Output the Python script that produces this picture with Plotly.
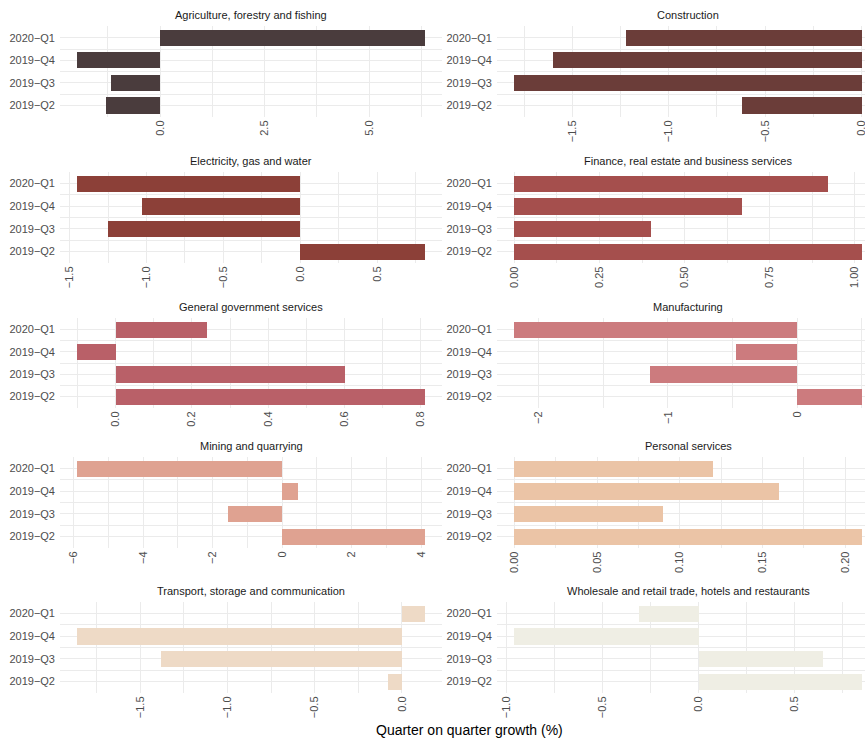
import plotly.graph_objects as go

# Quarters (bottom to top on each panel)
quarters = ["2019\u2212Q2", "2019\u2212Q3", "2019\u2212Q4", "2020\u2212Q1"]

sectors = [
    "Agriculture, forestry and fishing",
    "Construction",
    "Electricity, gas and water",
    "Finance, real estate and business services",
    "General government services",
    "Manufacturing",
    "Mining and quarrying",
    "Personal services",
    "Transport, storage and communication",
    "Wholesale and retail trade, hotels and restaurants",
]

# Quarter-on-quarter growth (%), ordered as in `quarters`
agriculture = [-1.29, -1.17, -1.98, 6.33]
construction = [-0.62, -1.80, -1.60, -1.22]
electricity = [0.81, -1.25, -1.03, -1.45]
finance = [1.02, 0.40, 0.67, 0.92]
government = [0.81, 0.60, -0.10, 0.24]
manufacturing = [0.50, -1.14, -0.47, -2.19]
mining = [4.10, -1.57, 0.46, -5.89]
personal = [0.21, 0.09, 0.16, 0.12]
transport = [-0.08, -1.38, -1.86, 0.13]
wholesale = [0.85, 0.65, -0.96, -0.31]

series = [agriculture, construction, electricity, finance, government,
          manufacturing, mining, personal, transport, wholesale]

colors = ["#4A3C3D", "#6B3D39", "#8C4038", "#A54F4D", "#B96068",
          "#CC7B7E", "#DFA291", "#EBC4A6", "#EEDAC6", "#EFEEE4"]

# Tick spacing and label format per panel
dticks = [2.5, 0.5, 0.5, 0.25, 0.2, 1, 2, 0.05, 0.5, 0.5]
formats = [".1f", ".1f", ".1f", ".2f", ".1f", "d", "d", ".2f", ".1f", ".1f"]

W, H = 865, 740
col_x = [(60, 442), (497, 879)]          # panel pixel spans (right column runs past the page)
row_y = [(26, 117.3), (171.7, 263.3), (317.7, 408.3), (456.7, 548.3), (601.7, 693.3)]

FONT = "Liberation Sans, Arial, sans-serif"
GRID = "#EBEBEB"

fig = go.Figure()
annotations = []
layout_axes = {}

for i, (name, vals, color) in enumerate(zip(sectors, series, colors)):
    r, c = divmod(i, 2)
    n = "" if i == 0 else str(i + 1)
    xa, ya = "x" + n, "y" + n
    fig.add_trace(go.Bar(
        x=vals, y=list(range(len(quarters))), orientation="h",
        width=0.72, marker=dict(color=color, line=dict(width=0)),
        xaxis=xa, yaxis=ya, showlegend=False, hoverinfo="x+y",
    ))

    lo, hi = min(0, min(vals)), max(0, max(vals))
    span = hi - lo
    rng = [lo - 0.05 * span, hi + 0.05 * span]
    x0, x1 = col_x[c]
    if x1 > W:
        frac = (W - x0) / (x1 - x0)
        rng = [rng[0], rng[0] + (rng[1] - rng[0]) * frac]
        dom_x = [x0 / W, 1.0]
    else:
        dom_x = [x0 / W, x1 / W]
    yt, yb = row_y[r]
    dom_y = [1 - yb / H, 1 - yt / H]

    layout_axes["xaxis" + n] = dict(
        domain=dom_x, range=rng, anchor=ya, automargin=False,
        tickmode="linear", tick0=0, dtick=dticks[i], tickformat=formats[i],
        tickangle=-90, ticks="", showline=False, zeroline=False,
        ticklabeloverflow="allow",
        showgrid=True, gridcolor=GRID, gridwidth=1.1,
        minor=dict(tickmode="linear", tick0=0, dtick=dticks[i] / 2,
                   showgrid=True, gridcolor=GRID, gridwidth=0.7, ticks=""),
        tickfont=dict(family=FONT, size=11, color="#4D4D4D"),
        fixedrange=True,
    )
    layout_axes["yaxis" + n] = dict(
        domain=dom_y, range=[-0.52, 3.52], anchor=xa, automargin=False,
        tickmode="array", tickvals=list(range(len(quarters))), ticktext=quarters,
        ticks="", showline=False, zeroline=False,
        showgrid=True, gridcolor=GRID, gridwidth=1.1,
        minor=dict(tickmode="array", tickvals=[k - 0.5 for k in range(len(quarters) + 1)],
                   showgrid=True, gridcolor=GRID, gridwidth=0.7, ticks=""),
        tickfont=dict(family=FONT, size=11, color="#4D4D4D"),
        ticklabelstandoff=4,
        fixedrange=True,
    )

    annotations.append(dict(
        text=name, xref="paper", yref="paper",
        x=(x0 + x1) / 2 / W, y=1 - (yt - 11) / H,
        xanchor="center", yanchor="middle", showarrow=False,
        font=dict(family=FONT, size=11, color="#1A1A1A"),
    ))

annotations.append(dict(
    text="Quarter on quarter growth (%)", xref="paper", yref="paper",
    x=(col_x[0][0] + col_x[1][1]) / 2 / W, y=1 - 730 / H,
    xanchor="center", yanchor="middle", showarrow=False,
    font=dict(family=FONT, size=14, color="#000000"),
))

fig.update_layout(
    width=W, height=H,
    margin=dict(l=0, r=0, t=0, b=0, autoexpand=False),
    paper_bgcolor="white", plot_bgcolor="white",
    annotations=annotations,
    bargap=0,
    **layout_axes,
)

fig.write_html("out.html")
